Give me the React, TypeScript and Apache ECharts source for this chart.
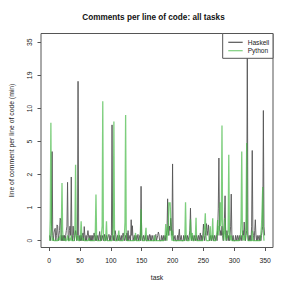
import React, { useEffect, useRef } from "react";
import * as echarts from "echarts";

const TITLE = "Comments per line of code: all tasks";
const X_NAME = "task";
const Y_NAME = "line of comment per line of code (min)";
const SERIES_NAMES = ["Haskell", "Python"];
const X_TICKS = [0, 50, 100, 150, 200, 250, 300, 350];
const Y_TICK_LABELS = ["0", "1", "2", "5", "10", "19", "35"];

// values per task (task 1..349)
const HASKELL = [
  0.1, 0, 0.1, 0.3, 4.0, 0.1, 0, 0.15, 0.22, 0.25,
  0, 0.1, 0.33, 0.3, 0, 0.1, 0.2, 0.5, 0.45, 0,
  0.1, 0, 0.1, 0, 0.1, 0, 0.1, 0.2, 0.3, 1.87,
  0.1, 0, 0.2, 0.3, 0.1, 2.16, 0.1, 0, 0.3, 0.1,
  0, 0.1, 0.2, 0.1, 0, 0.1, 16.8, 0.1, 0, 0.1,
  0, 0.1, 0, 0.1, 0.15, 0, 0.29, 0.1, 0, 0.1,
  0, 0.1, 0.2, 0.2, 0, 0.1, 0, 0.1, 0, 0.1,
  0, 0, 0.15, 0.15, 0, 0.1, 0, 0, 0.1, 0,
  0, 0.18, 0, 0.1, 0, 0, 0.1, 0, 0, 0.12,
  0, 0, 0.1, 0, 0, 0.1, 0.12, 0, 0.1, 0,
  0.1, 7.1, 0.1, 0, 0.1, 0, 0.2, 0.12, 0, 0,
  0.1, 0, 0, 0.1, 0, 0, 0.1, 0, 0.1, 0.15,
  0.15, 0, 0, 0.1, 0, 0.15, 0, 0.2, 0, 0,
  0.1, 0, 0.46, 0.1, 0.31, 0, 0, 0.1, 0, 0,
  0.1, 0, 0, 0.12, 0, 0, 0.1, 0, 1.67, 0.1,
  0, 0, 0.1, 0, 0, 0.1, 0, 0, 0, 0.1,
  0, 0, 0.12, 0, 0.1, 0, 0, 0.1, 0, 0,
  0, 0.1, 0.12, 0, 0, 0.1, 0.17, 0.12, 0, 0,
  0, 0.1, 0, 0, 0.1, 0, 0, 0.1, 0, 0.1,
  0.2, 1.13, 0.2, 0.1, 0.3, 0.2, 0.5, 0.3, 0.1, 3.0,
  0.1, 0, 0, 0.1, 0, 0, 0, 0.1, 0, 0,
  0.23, 0, 0, 0.1, 0, 0, 0, 0.1, 0, 0,
  0.1, 0, 0, 0.1, 0, 0, 0.1, 0.2, 0.8, 0.1,
  0, 0, 0.1, 0, 0, 0.1, 0, 0, 0.1, 0,
  0, 0.1, 0, 0, 0.15, 0, 0.1, 0, 0.1, 0.35,
  0.1, 0, 0.1, 0.2, 0.36, 0.1, 0.2, 0.33, 0.1, 0,
  0, 0.1, 0, 0, 0.1, 0, 0, 0.1, 0, 0,
  0.1, 0, 0.2, 0.8, 3.45, 0.3, 0.1, 0.2, 0.1, 0.3,
  0.1, 0, 0.2, 0.5, 1.25, 0.1, 0, 0.2, 0.1, 0,
  0.1, 0, 0.1, 0.3, 1.32, 0.1, 0, 0.1, 0, 0,
  0, 0.1, 0, 0, 0.1, 0, 0, 0.1, 0, 0,
  0.1, 0, 0.1, 0.2, 0.1, 0.4, 0.1, 0, 0.1, 0.2,
  35, 0.1, 0, 0.1, 0, 0.1, 0, 0.3, 4.1, 0.2,
  0.1, 0, 0.2, 0.46, 0.1, 0, 0.1, 0, 0, 0.1,
  0, 0.1, 0, 0.1, 0.2, 0.3, 9.5, 0.3, 0.1,
];

const PYTHON = [
  0, 0.5, 7.4, 0.3, 0, 0, 0.05, 0, 0, 0,
  0, 0, 0, 0, 0.05, 0, 0, 0.1, 0, 0.3,
  1.83, 0.2, 0, 0, 0.05, 0, 0, 0, 0, 0.1,
  0, 0, 0, 0.05, 0, 0.1, 0, 0, 0, 0,
  0, 0.3, 2.94, 0.2, 0, 0, 0.1, 0, 0, 0,
  0.1, 0.42, 0.1, 0, 0, 0.05, 0, 0, 0, 0,
  0, 0, 0, 0, 0.05, 0, 0, 0, 0, 0,
  0, 0, 0, 0, 0.2, 1.3, 0.1, 0, 0, 0,
  0, 0, 0, 0, 0, 0.3, 11.4, 0.1, 0, 0,
  0, 0.1, 0.42, 0, 0, 0, 0, 0, 0, 0,
  0, 0, 0.1, 0.3, 7.6, 0.1, 0, 0, 0, 0,
  0, 0, 0.2, 0, 0, 0, 0, 0, 0, 0,
  0, 0.1, 0.4, 8.7, 0.1, 0, 0, 0, 0, 0,
  0, 0, 0, 0, 0, 0, 0, 0, 0.05, 0.15,
  0, 0, 0, 0, 0, 0, 0, 0.2, 0.77, 0.1,
  0, 0, 0, 0, 0, 0, 0.26, 0, 0, 0,
  0, 0, 0, 0, 0, 0, 0, 0, 0, 0,
  0.1, 0, 0, 0, 0, 0, 0, 0, 0, 0,
  0, 0, 0, 0, 0, 0, 0, 0.1, 0.35, 0.1,
  0, 0.3, 0.1, 1.0, 0.9, 1.0, 0.5, 0.1, 0, 0.2,
  0, 0, 0, 0, 0, 0, 0, 0, 0, 0,
  0, 0, 0, 0, 0, 0, 0, 0, 0, 0.1,
  1.0, 0.1, 0, 0, 0, 0, 0, 0.1, 0.47, 0,
  0, 0.15, 0, 0, 0, 0, 0.1, 0.51, 0, 0,
  0, 0, 0, 0, 0, 0, 0, 0, 0, 0.1,
  0.2, 0.3, 0.64, 0.1, 0, 0, 0, 0, 0, 0.1,
  0.3, 0, 0, 0.1, 0.5, 0, 0, 0, 0, 0,
  0.1, 0.2, 0.45, 0.1, 0.3, 0.2, 1.0, 0.3, 0.5, 7.0,
  0.3, 0.1, 0, 0.2, 0.5, 0.1, 0, 0.1, 0.05, 0.2,
  3.73, 0.2, 0, 0, 0.1, 0, 0, 0, 0, 0,
  0, 0, 0, 0, 0, 0, 0, 0, 0, 0.1,
  0.5, 4.0, 0.2, 0, 0, 0.1, 0, 0.1, 0.5, 4.84,
  0.2, 0, 0, 0, 0, 0, 0, 0, 0.2, 0,
  0, 0, 0, 0, 0, 0, 0, 0, 0, 0,
  0, 0, 0, 0.3, 0.8, 1.64, 0.2, 0, 0,
];

// y axis is log1p-scaled; one tick step = STEP in log1p units
const STEP = Math.log(36) / 6;
const toAxis = (v: number) => Math.log1p(v) / STEP;

const FONT = "'Liberation Sans', Arial, Helvetica, sans-serif";

export default function App() {
  const ref = useRef<HTMLDivElement>(null);
  useEffect(() => {
    if (!ref.current) return;
    const chart = echarts.init(ref.current, null, { renderer: "svg" });
    const toPairs = (arr: number[]) => arr.map((v, i) => [i + 1, toAxis(v)]);
    chart.setOption({
      animation: false,
      backgroundColor: "#ffffff",
      grid: {
        left: 34,
        right: 18,
        top: 33.5,
        bottom: 43.5,
        show: true,
        borderColor: "#555",
        borderWidth: 1,
        backgroundColor: "transparent",
      },
      graphic: [
        {
          type: "text",
          x: 153.5,
          y: 17.3,
          style: {
            text: TITLE,
            align: "center",
            verticalAlign: "middle",
            font: `bold 8.2px ${FONT}`,
            fill: "#111",
          },
        },
      ],
      legend: {
        orient: "vertical",
        right: 18,
        top: 33.5,
        padding: [4.6, 3.7, 3.4, 5.6],
        itemWidth: 14.4,
        itemHeight: 1.2,
        itemGap: 0,
        icon: "rect",
        backgroundColor: "#fff",
        borderColor: "#555",
        borderWidth: 1,
        borderRadius: 0,
        textStyle: {
          fontFamily: FONT,
          fontSize: 6.6,
          lineHeight: 8.4,
          color: "#222",
        },
        data: SERIES_NAMES,
      },
      xAxis: {
        type: "value",
        min: -13,
        max: 362.6,
        name: X_NAME,
        nameLocation: "middle",
        nameGap: 26.5,
        nameTextStyle: { fontFamily: FONT, fontSize: 6.8, color: "#222" },
        axisLine: { show: false, onZero: false },
        axisTick: {
          show: true,
          length: 3.5,
          customValues: X_TICKS,
          lineStyle: { color: "#555", width: 1 },
        },
        axisLabel: {
          customValues: X_TICKS,
          margin: 9.5,
          fontFamily: FONT,
          fontSize: 6.8,
          color: "#222",
        },
        splitLine: { show: false },
      },
      yAxis: {
        type: "value",
        min: -0.206,
        max: 6.266,
        name: Y_NAME,
        nameLocation: "middle",
        nameGap: 26,
        nameTextStyle: { fontFamily: FONT, fontSize: 6.8, color: "#222" },
        axisLine: { show: false, onZero: false },
        axisTick: {
          show: true,
          length: 3.5,
          customValues: Y_TICK_LABELS.map((_, i) => i),
          lineStyle: { color: "#555", width: 1 },
        },
        axisLabel: {
          customValues: Y_TICK_LABELS.map((_, i) => i),
          formatter: (v: number) => Y_TICK_LABELS[Math.round(v)] ?? "",
          rotate: 90,
          margin: 8.5,
          fontFamily: FONT,
          fontSize: 6.8,
          color: "#222",
        },
        splitLine: { show: false },
      },
      series: [
        {
          name: SERIES_NAMES[0],
          type: "line",
          data: toPairs(HASKELL),
          showSymbol: false,
          symbol: "none",
          color: "#555555",
          lineStyle: { color: "#555555", width: 0.9 },
          z: 2,
        },
        {
          name: SERIES_NAMES[1],
          type: "line",
          data: toPairs(PYTHON),
          showSymbol: false,
          symbol: "none",
          color: "rgba(70,185,70,0.7)",
          lineStyle: { color: "rgba(70,185,70,0.7)", width: 1.3 },
          z: 3,
        },
      ],
    });
    return () => chart.dispose();
  }, []);
  return (
    <div
      ref={ref}
      style={{ position: "fixed", left: 0, top: 0, width: 291, height: 291, background: "#fff" }}
    />
  );
}
